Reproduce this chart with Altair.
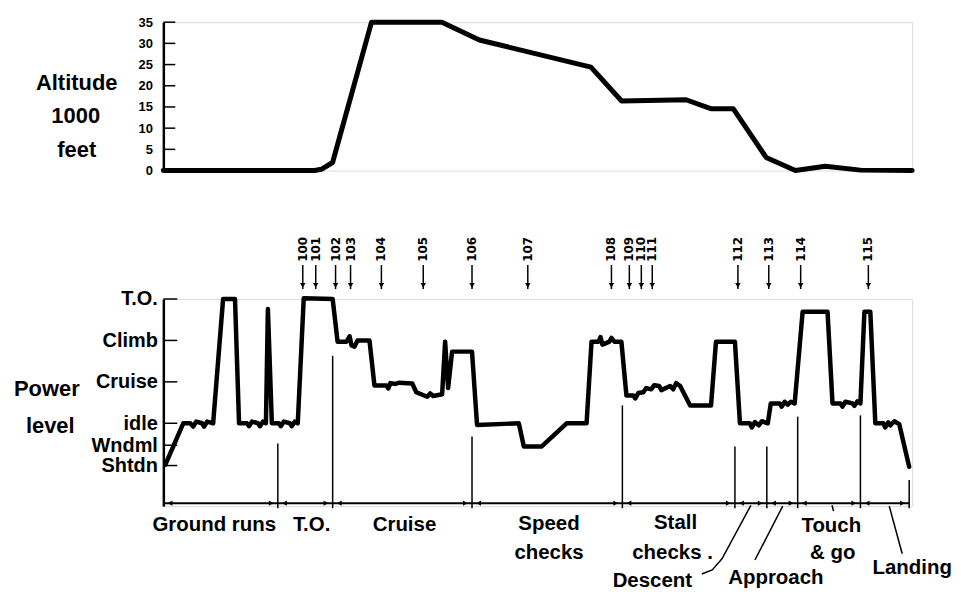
import altair as alt
import pandas as pd

FONT = "Liberation Sans"

# ---------------- data (time in arbitrary units 0-100) ----------------
alt_time = [0, 20.2, 21.1, 22.6, 27.8, 37.2, 42.2, 57.1, 61.2, 69.8, 73.1, 76.1,
            80.5, 84.4, 88.4, 93.1, 100]
alt_kft = [0, 0, 0.3, 1.9, 35, 35, 30.8, 24.4, 16.4, 16.7, 14.6, 14.6,
           3.1, 0, 1.0, 0.1, 0]
alt_tick_values = [0, 5, 10, 15, 20, 25, 30, 35]

level_names = ["Shtdn", "Wndml", "idle", "Cruise", "Climb", "T.O."]
level_values = [0.98, 1.47, 2.0, 3.0, 4.0, 5.0]

power_time = [0.27, 2.66, 3.59, 3.99, 4.39, 5.19, 5.45, 5.85, 6.65, 7.98, 9.57, 10.11,
              11.17, 11.44, 11.84, 12.63, 12.90, 13.30, 13.70, 13.96, 14.49, 15.43,
              15.69, 16.09, 16.89, 17.15, 17.55, 17.95, 18.75, 22.61, 23.27, 24.47,
              24.87, 25.13, 25.53, 25.93, 27.53, 28.19, 29.79, 30.05, 30.32, 30.98,
              31.52, 33.24, 33.78, 35.24, 35.64, 36.04, 37.23, 37.63, 38.03, 38.56,
              41.22, 41.89, 47.47, 48.14, 50.53, 53.86, 56.52, 57.18, 58.11, 58.38,
              58.64, 59.57, 59.84, 60.24, 61.17, 61.84, 62.77, 63.03, 63.43, 64.10,
              64.49, 65.16, 65.56, 66.22, 66.49, 67.69, 68.09, 68.48, 69.02, 70.35,
              73.14, 73.80, 76.33, 77.00, 78.32, 78.59, 78.99, 79.52, 79.92, 80.72,
              81.12, 82.31, 82.58, 82.98, 83.38, 83.78, 84.31, 85.37, 88.70, 89.36,
              90.43, 90.69, 91.09, 92.02, 92.29, 92.69, 93.09, 93.62, 94.41, 95.08,
              96.14, 96.41, 96.81, 97.07, 97.61, 98.27, 99.60]
power_level = [1.0, 2.0, 2.0, 1.92, 2.04, 2.0, 1.92, 2.04, 2.0, 5.0, 5.0, 2.0,
               2.0, 1.93, 2.04, 2.0, 1.93, 2.04, 2.0, 4.76, 2.0, 2.0,
               1.93, 2.04, 2.0, 1.93, 2.04, 2.0, 5.02, 5.0, 3.97, 3.97,
               4.1, 3.88, 3.85, 4.0, 4.0, 2.91, 2.91, 2.84, 2.97, 2.95,
               2.98, 2.96, 2.75, 2.64, 2.72, 2.66, 2.7, 3.97, 2.85, 3.73,
               3.73, 1.96, 2.0, 1.44, 1.44, 2.0, 2.0, 3.97, 3.97, 4.08,
               3.9, 3.97, 4.06, 3.97, 3.97, 2.67, 2.67, 2.6, 2.73, 2.75,
               2.85, 2.82, 2.92, 2.9, 2.8, 2.9, 2.82, 2.97, 2.9, 2.43,
               2.43, 3.97, 3.97, 2.0, 2.0, 1.9, 2.03, 1.95, 2.05, 2.0,
               2.48, 2.48, 2.4, 2.52, 2.45, 2.52, 2.48, 4.69, 4.69, 2.48,
               2.48, 2.4, 2.52, 2.48, 2.42, 2.53, 2.48, 4.69, 4.69, 2.0,
               2.0, 1.9, 2.02, 1.95, 2.05, 1.98, 0.95]

bound_time = [15.29, 22.61, 41.22, 61.3, 76.33, 80.59, 84.71, 93.09, 99.6]
bound_top = [1.51, 3.63, 1.68, 2.43, 1.44, 1.44, 2.16, 2.19, 0.63]

event_ids = ["100", "101", "102", "103", "104", "105", "106", "107", "108",
             "109", "110", "111", "112", "113", "114", "115"]
event_time = [18.62, 20.35, 23.0, 25.0, 29.12, 34.71, 41.22, 48.67, 59.84,
              62.23, 63.83, 65.29, 76.73, 80.85, 85.11, 94.15]

phase_text = ["Ground runs", "T.O.", "Cruise", "Speed", "checks", "Stall", "checks .",
              "Touch", "& go", "Descent", "Approach"]
phase_time = [6.8, 19.8, 32.2, 51.5, 51.5, 68.4, 68.0, 89.2, 89.4, 65.3, 81.8]
phase_y = [-0.46, -0.46, -0.46, -0.43, -1.13, -0.41, -1.13, -0.48, -1.13, -1.8, -1.73]
end_text = ["Landing"]
end_time = [105.3]
end_y = [-1.49]

leader_group = ["Descent"] * 4 + ["Approach"] * 2 + ["Landing"] * 2 + ["Touch"] * 2
leader_time = [78.46, 74.6, 73.3, 71.9, 82.71, 79.0, 96.94, 98.67, 89.3, 89.5]
leader_y = [0.02, -1.27, -1.54, -1.64, 0.0, -1.3, 0.0, -1.15, 0.02, -0.12]

# ---------------- frames ----------------
alt_df = pd.DataFrame({"t": alt_time, "kft": alt_kft})
alt_tick_df = pd.DataFrame({"kft": alt_tick_values[1:]})
power_df = pd.DataFrame({"t": power_time, "lvl": power_level})
level_df = pd.DataFrame({"name": level_names, "lvl": level_values})
bound_df = pd.DataFrame({"t": bound_time, "top": bound_top, "bottom": [-0.05] * len(bound_time)})
event_df = pd.DataFrame({"id": event_ids, "t": event_time, "label_y": [6.2] * len(event_ids),
                         "a_top": [5.82] * len(event_ids), "a_bot": [5.24] * len(event_ids),
                         "head": [5.33] * len(event_ids)})
phase_df = pd.DataFrame({"text": phase_text, "t": phase_time, "y": phase_y})
end_df = pd.DataFrame({"text": end_text, "t": end_time, "y": end_y})
leader_df = pd.DataFrame({"g": leader_group, "t": leader_time, "y": leader_y,
                          "k": list(range(len(leader_group)))})
seg_start = [0.0] + bound_time[:-1]
seg_end = bound_time
head_df = pd.DataFrame({
    "t": [s + 0.9 for s in seg_start] + [e - 0.9 for e in seg_end],
    "dir": ["L"] * len(seg_start) + ["R"] * len(seg_end),
    "y": [0.07] * (2 * len(seg_start)),
})
span_df = pd.DataFrame({"t0": [0.0], "t1": [bound_time[-1]], "y": [0.07]})
one = pd.DataFrame({"a": [0]})

XS = alt.Scale(domain=[0, 100], nice=False, zero=False)


def X(f):
    return alt.X(f"{f}:Q", scale=XS, axis=None)


# ---------------- top: altitude ----------------
AS = alt.Scale(domain=[0, 35], nice=False)
alt_axis = alt.Axis(values=alt_tick_values, ticks=False, grid=False, domainColor="black",
                    domainWidth=2.5, labelFont=FONT, labelFontSize=13, labelFontWeight="bold",
                    labelColor="black", labelPadding=11, title=None)


def YA(f):
    return alt.Y(f"{f}:Q", scale=AS, axis=alt_axis)


def note(text, x, y, size=22, align="center"):
    return alt.Chart(one).mark_text(text=text, font=FONT, fontSize=size, fontWeight="bold",
                                    align=align, baseline="alphabetic", color="black").encode(
        x=alt.value(x), y=alt.value(y))


alt_line = alt.Chart(alt_df).mark_line(color="black", strokeWidth=5, strokeJoin="round",
                                       strokeCap="round").encode(x=X("t"), y=YA("kft"))
alt_ticks = alt.Chart(alt_tick_df).mark_rule(color="black", strokeWidth=1.5).encode(
    y=YA("kft"), x=alt.value(0), x2=alt.value(12))

top = alt.layer(
    alt_line, alt_ticks,
    note("Altitude", -87, 68), note("1000", -88, 101), note("feet", -87, 135),
).properties(width=752, height=149)

# ---------------- bottom: power level ----------------
PS = alt.Scale(domain=[0, 5], nice=False, zero=False)
expr = " : ".join(f"datum.value == {v} ? '{n}'" for n, v in zip(level_names, level_values)) + " : ''"
pow_axis = alt.Axis(values=level_values, ticks=False, grid=False, domainColor="black",
                    domainWidth=2.5, labelFont=FONT, labelFontSize=20, labelFontWeight="bold",
                    labelColor="black", labelPadding=6, labelExpr=expr, title=None,
                    labelOverlap=False, labelBound=False, labelFlush=False)


def YP(f):
    return alt.Y(f"{f}:Q", scale=PS, axis=pow_axis)


def YP2(f):
    return alt.Y2(f"{f}:Q")


power_line = alt.Chart(power_df).mark_line(color="black", strokeWidth=4.5, strokeJoin="round",
                                           strokeCap="round").encode(x=X("t"), y=YP("lvl"))
level_ticks = alt.Chart(level_df).mark_rule(color="black", strokeWidth=1.5).encode(
    y=YP("lvl"), x=alt.value(0), x2=alt.value(14))
bounds = alt.Chart(bound_df).mark_rule(color="black", strokeWidth=1.5).encode(
    x=X("t"), y=YP("top"), y2=YP2("bottom"))
span = alt.Chart(span_df).mark_rule(color="black", strokeWidth=1.8).encode(
    x=X("t0"), x2=alt.X2("t1:Q"), y=YP("y"))
heads_l = alt.Chart(head_df).transform_filter("datum.dir == 'L'").mark_point(
    shape="triangle-left", filled=True, color="black", size=28, opacity=1).encode(x=X("t"), y=YP("y"))
heads_r = alt.Chart(head_df).transform_filter("datum.dir == 'R'").mark_point(
    shape="triangle-right", filled=True, color="black", size=28, opacity=1).encode(x=X("t"), y=YP("y"))
phases = alt.Chart(phase_df).mark_text(font=FONT, fontSize=20.5, fontWeight="bold", color="black",
                                       align="center", baseline="middle").encode(
    x=X("t"), y=YP("y"), text="text:N")
phase_end = alt.Chart(end_df).mark_text(font=FONT, fontSize=20.5, fontWeight="bold", color="black",
                                        align="right", baseline="middle").encode(
    x=X("t"), y=YP("y"), text="text:N")
leaders = alt.Chart(leader_df).mark_line(color="black", strokeWidth=1.5).encode(
    x=X("t"), y=YP("y"), detail="g:N", order=alt.Order("k:Q"))
ev_text = alt.Chart(event_df).mark_text(font="DejaVu Sans", fontSize=12, fontWeight="bold",
                                        color="black", angle=270, align="center",
                                        baseline="middle").encode(
    x=X("t"), y=YP("label_y"), text="id:N")
ev_rule = alt.Chart(event_df).mark_rule(color="black", strokeWidth=1.5).encode(
    x=X("t"), y=YP("a_top"), y2=YP2("a_bot"))
ev_head = alt.Chart(event_df).mark_point(shape="triangle-down", filled=True, color="black",
                                         size=30, opacity=1).encode(x=X("t"), y=YP("head"))

bottom = alt.layer(
    power_line, level_ticks, bounds, span, heads_l, heads_r, phases, phase_end, leaders,
    ev_text, ev_rule, ev_head,
    note("Power", -150, 97, align="left"), note("level", -138, 135, align="left"),
).properties(width=752, height=208)

chart = alt.vconcat(top, bottom, spacing=129, bounds="flush").resolve_scale(
    y="independent").properties(
    padding={"left": 5, "top": 6, "right": 0, "bottom": 0}
).configure_view(stroke=None).configure(background="white")

chart.save("out.html", embed_options={"renderer": "svg", "actions": False})
